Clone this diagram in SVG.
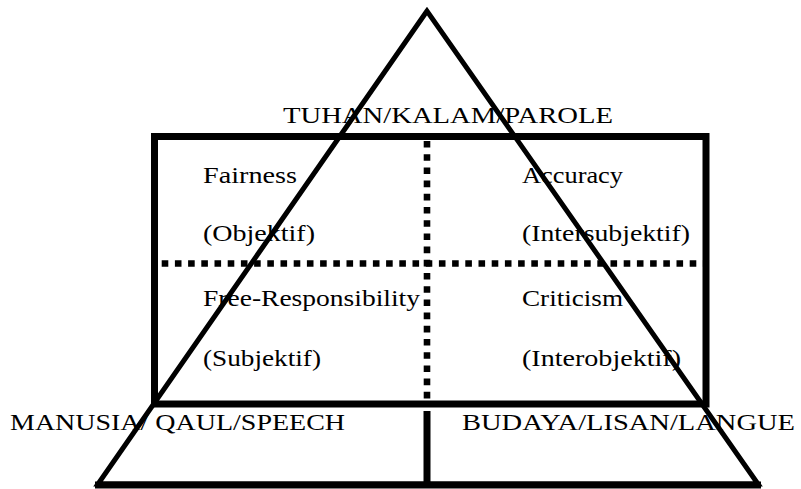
<svg xmlns="http://www.w3.org/2000/svg" width="801" height="489" viewBox="0 0 801 489">
<style>
  .t { font-family: "Liberation Serif", "Times New Roman", serif; font-size: 24px; fill: #000; }
  .solid { fill: none; stroke: #000; stroke-width: 7; }
  .tri { fill: none; stroke: #000; stroke-width: 5; stroke-linejoin: miter; }
  .dot { fill: none; stroke: #000; stroke-width: 6.6; stroke-dasharray: 6.6 6.6; }
</style>
<rect x="0" y="0" width="801" height="489" fill="#fff"/>
<g id="connectors">
  <polygon id="triangle" class="tri" points="427,11 98,484 758,484"/>
  <line class="solid" x1="95" y1="485" x2="761" y2="485"/>
  <rect id="frame" class="solid" x="154.5" y="136.5" width="551.5" height="267.5"/>
  <line class="dot" x1="161.7" y1="263.5" x2="709" y2="263.5"/>
  <line class="dot" x1="427" y1="141" x2="427" y2="401"/>
  <line class="solid" x1="427" y1="411" x2="427" y2="485"/>
</g>
<g id="top-label"><text class="t" x="283" y="123" textLength="330" lengthAdjust="spacingAndGlyphs">TUHAN/KALAM/PAROLE</text></g>
<g id="fairness">
  <text class="t" x="203" y="183" textLength="94" lengthAdjust="spacingAndGlyphs">Fairness</text>
  <text class="t" x="203" y="241" textLength="112" lengthAdjust="spacingAndGlyphs">(Objektif)</text>
</g>
<g id="accuracy">
  <text class="t" x="522" y="183" textLength="101" lengthAdjust="spacingAndGlyphs">Accuracy</text>
  <text class="t" x="522" y="241" textLength="168" lengthAdjust="spacingAndGlyphs">(Intersubjektif)</text>
</g>
<g id="free-responsibility">
  <text class="t" x="203" y="306" textLength="217" lengthAdjust="spacingAndGlyphs">Free-Responsibility</text>
  <text class="t" x="203" y="366" textLength="118" lengthAdjust="spacingAndGlyphs">(Subjektif)</text>
</g>
<g id="criticism">
  <text class="t" x="522" y="306" textLength="101" lengthAdjust="spacingAndGlyphs">Criticism</text>
  <text class="t" x="522" y="366" textLength="159" lengthAdjust="spacingAndGlyphs">(Interobjektif)</text>
</g>
<g id="manusia"><text class="t" x="10" y="430" textLength="335" lengthAdjust="spacingAndGlyphs">MANUSIA/ QAUL/SPEECH</text></g>
<g id="budaya"><text class="t" x="462" y="430" textLength="333" lengthAdjust="spacingAndGlyphs">BUDAYA/LISAN/LANGUE</text></g>
</svg>
